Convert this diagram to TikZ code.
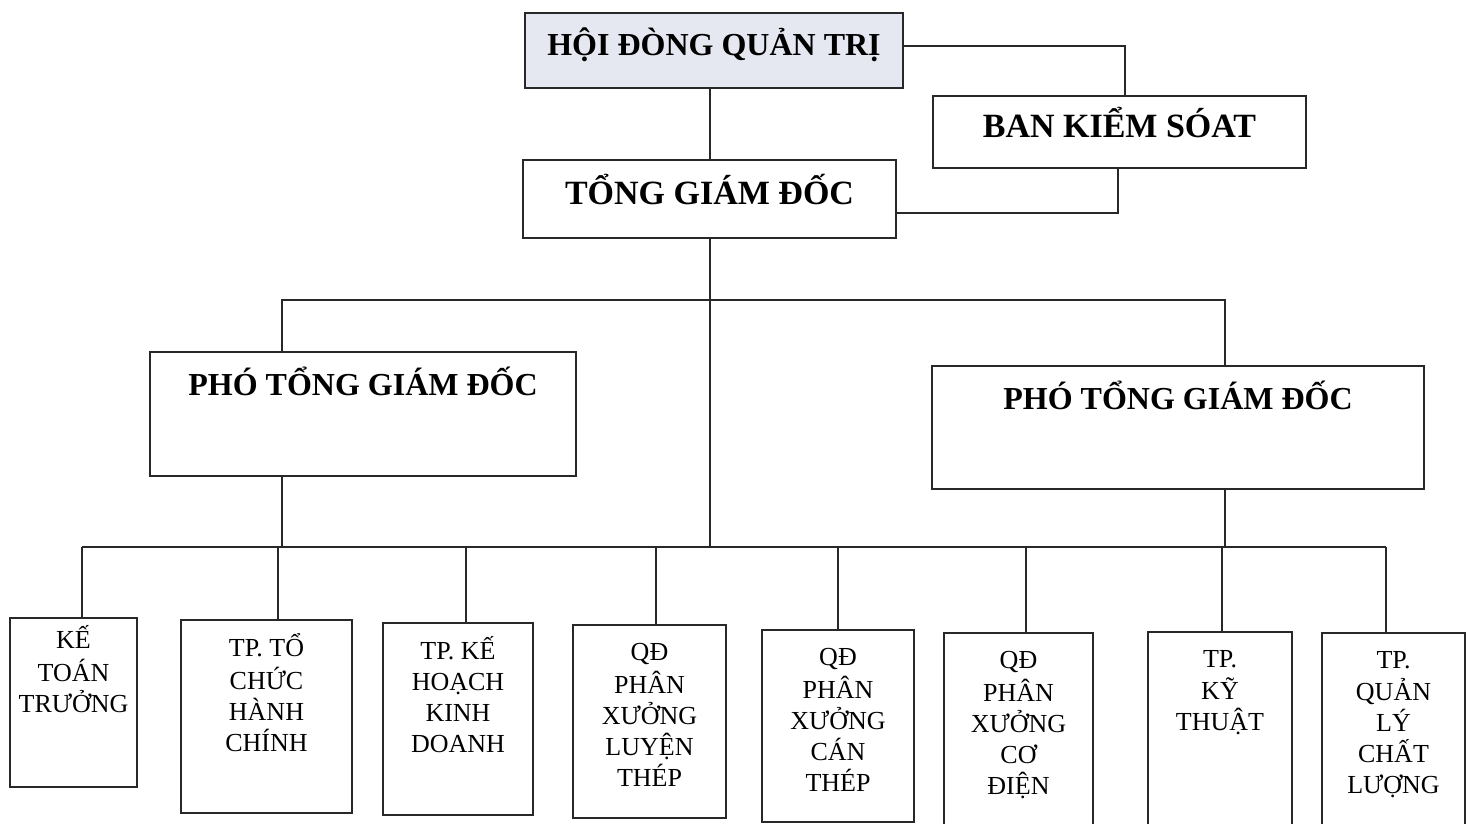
\documentclass[tikz,border=0pt]{standalone}
\usepackage{fontspec}
\setmainfont{Liberation Serif}
\usepackage{tikz}
\definecolor{boardfill}{RGB}{230,232,241}
\definecolor{linegray}{RGB}{40,40,40}
\tikzset{
    block/.style = {
        draw=linegray,
        shape=rectangle,
        line width=2pt,
        inner sep=0pt,
        font=\fontsize{32}{38}\selectfont\bfseries,
        text height=21pt,
        text depth=11pt
    },
    vp/.style = {
        block,
        text depth=58pt
    },
    unit/.style = {
        draw=linegray,
        shape=rectangle,
        line width=2pt,
        inner sep=0pt
    },
    unittext/.style = {
        anchor=north,
        align=center,
        inner sep=0pt,
        yshift=-14.5pt,
        font=\fontsize{26}{31}\selectfont
    },
    wire/.style = {
        draw=linegray,
        line width=2pt
    },
}

\begin{document}
\begin{tikzpicture}[x=1pt, y=-1pt]
                \path[use as bounding box, fill=white] (0,0) rectangle (1477,823);

                % top level
                \node[block, fill=boardfill, minimum width=378pt, minimum height=75pt] (board) at (714,50.5) {HỘI ĐÒNG QUẢN TRỊ};
                \node[block, font=\fontsize{34}{40}\selectfont\bfseries, minimum width=373pt, minimum height=72pt] (audit) at (1119.5,132) {BAN KIỂM SÓAT};
                \node[block, font=\fontsize{34}{40}\selectfont\bfseries, minimum width=373pt, minimum height=78pt] (ceo) at (709.5,199) {TỔNG GIÁM ĐỐC};

                % deputies
                \node[vp, minimum width=426pt, minimum height=124pt] (vpleft) at (363,414) {PHÓ TỔNG GIÁM ĐỐC};
                \node[vp, minimum width=492pt, minimum height=123pt] (vpright) at (1178,427.5) {PHÓ TỔNG GIÁM ĐỐC};

                % departments
                \node[unit, minimum width=127pt, minimum height=169pt, label={[unittext, yshift=6pt]north:{\strut KẾ\\TOÁN\\TRƯỞNG}}] (acct) at (73.5,702.5) {};
                \node[unit, minimum width=171pt, minimum height=193pt, label={[unittext]north:{\strut TP. TỔ\\CHỨC\\HÀNH\\CHÍNH}}] (admin) at (266.5,716.5) {};
                \node[unit, minimum width=150pt, minimum height=192pt, label={[unittext]north:{\strut TP. KẾ\\HOẠCH\\KINH\\DOANH}}] (plan) at (458,719) {};
                \node[unit, minimum width=153pt, minimum height=193pt, label={[unittext]north:{\strut QĐ\\PHÂN\\XƯỞNG\\LUYỆN\\THÉP}}] (smelt) at (649.5,721.5) {};
                \node[unit, minimum width=152pt, minimum height=192pt, label={[unittext]north:{\strut QĐ\\PHÂN\\XƯỞNG\\CÁN\\THÉP}}] (roll) at (838,726) {};
                \node[unit, minimum width=149pt, minimum height=210pt, label={[unittext]north:{\strut QĐ\\PHÂN\\XƯỞNG\\CƠ\\ĐIỆN}}] (mech) at (1018.5,738) {};
                \node[unit, minimum width=144pt, minimum height=210pt, label={[unittext]north:{\strut TP.\\KỸ\\THUẬT}}] (tech) at (1220,737) {};
                \node[unit, minimum width=143pt, minimum height=210pt, label={[unittext]north:{\strut TP.\\QUẢN\\LÝ\\CHẤT\\LƯỢNG}}] (qual) at (1393.5,738) {};

                % bus points
                \coordinate (vpl) at (282,300);
                \coordinate (vpr) at (1225,300);
                \coordinate (busl) at (82,547);
                \coordinate (busr) at (1386,547);
                \coordinate (d2) at (278,547);
                \coordinate (d3) at (466,547);
                \coordinate (d4) at (656,547);
                \coordinate (d5) at (838,547);
                \coordinate (d6) at (1026,547);
                \coordinate (d7) at (1222,547);

                \path[wire] ([yshift=5pt]board.east) -| ([xshift=5pt]audit.north);
                \path[wire] ([xshift=-2pt]audit.south) |- ([yshift=-14pt]ceo.east);
                \path[wire] ([xshift=-4pt]board.south) -- ([xshift=-4pt]board.south |- ceo.north);
                \path[wire] (ceo.south) -- (ceo.south |- busl);

                \path[wire] (vpl |- vpleft.north) -- (vpl) -- (vpr) -- (vpr |- vpright.north);
                \path[wire] (vpl |- vpleft.south) -- (vpl |- busl);
                \path[wire] (vpr |- vpright.south) -- (vpr |- busl);

                \path[wire] (busl) -- (busr);
                \path[wire] (busl) -- (busl |- acct.north);
                \path[wire] (d2) -- (d2 |- admin.north);
                \path[wire] (d3) -- (d3 |- plan.north);
                \path[wire] (d4) -- (d4 |- smelt.north);
                \path[wire] (d5) -- (d5 |- roll.north);
                \path[wire] (d6) -- (d6 |- mech.north);
                \path[wire] (d7) -- (d7 |- tech.north);
                \path[wire] (busr) -- (busr |- qual.north);
\end{tikzpicture}
\end{document}
